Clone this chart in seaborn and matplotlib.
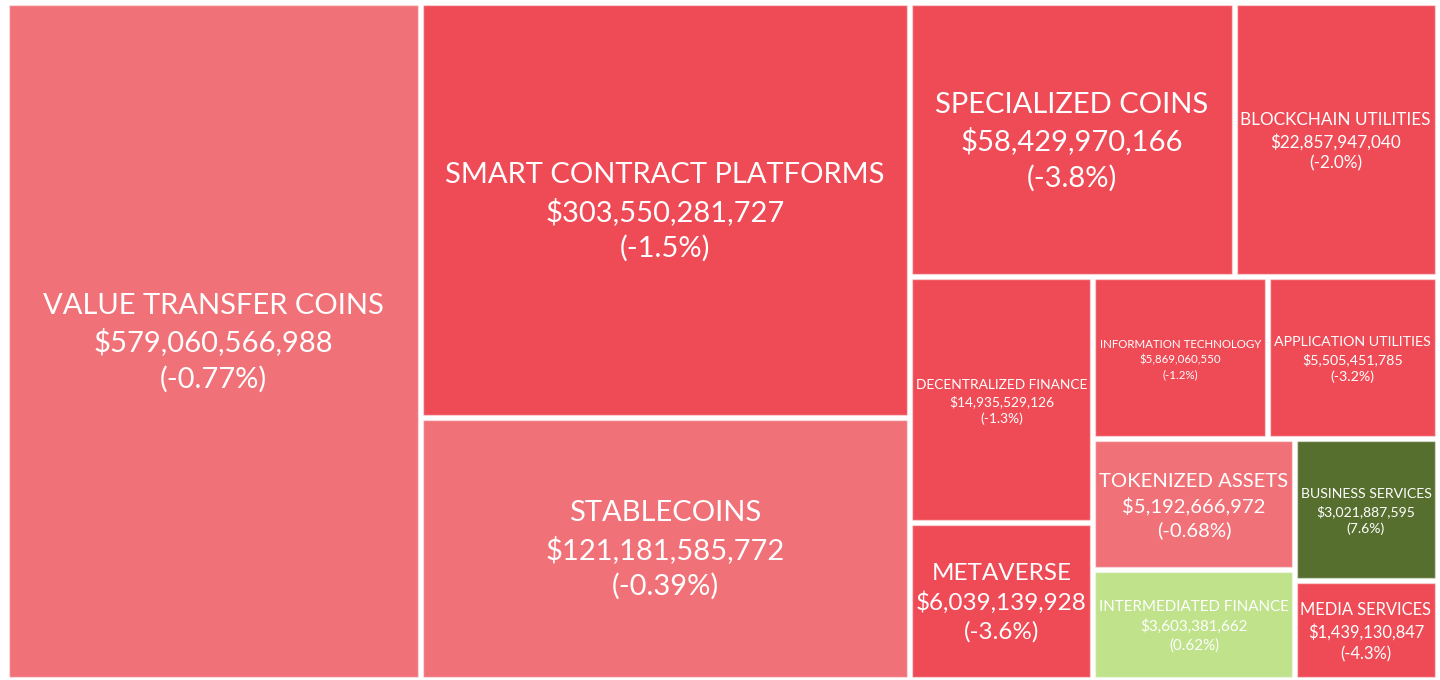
import matplotlib
matplotlib.use("Agg")
import numpy as np
import pandas as pd
import seaborn as sns
import matplotlib.pyplot as plt
from matplotlib.patches import Rectangle

# ---------------- data ----------------
categories = [
    "VALUE TRANSFER COINS", "SMART CONTRACT PLATFORMS", "STABLECOINS",
    "SPECIALIZED COINS", "BLOCKCHAIN UTILITIES", "DECENTRALIZED FINANCE",
    "METAVERSE", "INFORMATION TECHNOLOGY", "APPLICATION UTILITIES",
    "TOKENIZED ASSETS", "INTERMEDIATED FINANCE", "BUSINESS SERVICES",
    "MEDIA SERVICES",
]
market_caps = [
    579060566988, 303550281727, 121181585772, 58429970166, 22857947040,
    14935529126, 6039139928, 5869060550, 5505451785, 5192666972,
    3603381662, 3021887595, 1439130847,
]
changes_pct = [-0.77, -1.5, -0.39, -3.8, -2.0, -1.3, -3.6, -1.2, -3.2,
               -0.68, 0.62, 7.6, -4.3]

df = pd.DataFrame({"category": categories, "cap": market_caps, "chg": changes_pct})
df = df.sort_values("cap", ascending=False).reset_index(drop=True)
# tile area grows with the square root of market cap
df["weight"] = np.sqrt(df["cap"].astype(float))

# ---------------- squarified treemap layout ----------------
def _layout_row(sizes, x, y, dx, dy):
    width = sum(sizes) / dy
    rects = []
    for s in sizes:
        rects.append((x, y, width, s / width))
        y += s / width
    return rects

def _layout_col(sizes, x, y, dx, dy):
    height = sum(sizes) / dx
    rects = []
    for s in sizes:
        rects.append((x, y, s / height, height))
        x += s / height
    return rects

def _layout(sizes, x, y, dx, dy):
    return _layout_row(sizes, x, y, dx, dy) if dx >= dy else _layout_col(sizes, x, y, dx, dy)

def _leftover(sizes, x, y, dx, dy):
    if dx >= dy:
        width = sum(sizes) / dy
        return x + width, y, dx - width, dy
    height = sum(sizes) / dx
    return x, y + height, dx, dy - height

def _worst(sizes, x, y, dx, dy):
    return max(max(r[2] / r[3], r[3] / r[2]) for r in _layout(sizes, x, y, dx, dy))

def squarify(sizes, x, y, dx, dy):
    sizes = list(sizes)
    if not sizes:
        return []
    if len(sizes) == 1:
        return _layout(sizes, x, y, dx, dy)
    i = 1
    while i < len(sizes) and _worst(sizes[:i], x, y, dx, dy) >= _worst(sizes[:i + 1], x, y, dx, dy):
        i += 1
    cur, rest = sizes[:i], sizes[i:]
    lx, ly, ldx, ldy = _leftover(cur, x, y, dx, dy)
    return _layout(cur, x, y, dx, dy) + squarify(rest, lx, ly, ldx, ldy)

W, H = 1440, 680
X0, Y0, DX, DY = 6.5, 2.5, 1430.5, 676.5
total = df["weight"].sum()
norm = [w * DX * DY / total for w in df["weight"]]
rects = squarify(norm, X0, Y0, DX, DY)

def tile_color(c):
    if c >= 1.0:
        return "#566e2e"
    if c >= 0:
        return "#bfe28b"
    if c > -1.0:
        return "#f07178"
    return "#ef4b56"

# ---------------- draw ----------------
sns.set_theme(style="white")
plt.rcParams["font.family"] = ["Lato", "DejaVu Sans"]

fig = plt.figure(figsize=(W / 100, H / 100), dpi=100)
ax = fig.add_axes([0, 0, 1, 1])
ax.set_xlim(0, W)
ax.set_ylim(H, 0)
ax.axis("off")
sns.despine(ax=ax, left=True, bottom=True)

renderer = fig.canvas.get_renderer()
GAP = 2.5
MAXFS = 21.0
for (x, y, w, h), (_, row) in zip(rects, df.iterrows()):
    ax.add_patch(Rectangle((x + GAP, y + GAP), w - 2 * GAP, h - 2 * GAP,
                           facecolor=tile_color(row["chg"]),
                           edgecolor=(1, 1, 1, 0.45), linewidth=1.0))
    label = f"{row['category']}\n${row['cap']:,}\n({format(row['chg'], '#.2g')}%)"
    t = ax.text(x + w / 2, y + h / 2 + 2, label, ha="center", va="center",
                multialignment="center", color="white", fontsize=MAXFS,
                linespacing=1.42)
    bw = t.get_window_extent(renderer=renderer).width
    avail = 0.96 * (w - 2 * GAP)
    if bw > avail:
        t.set_fontsize(MAXFS * avail / bw)

fig.savefig("out.png", dpi=100)
